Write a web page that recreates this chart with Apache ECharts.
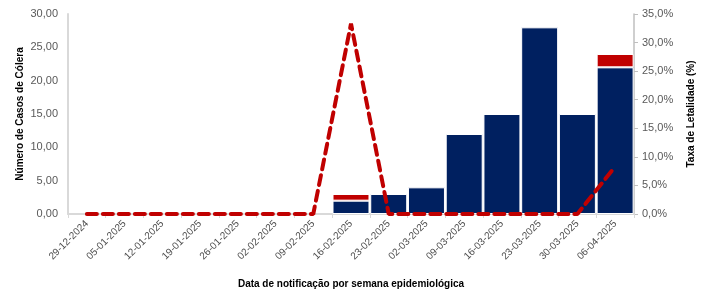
<!DOCTYPE html>
<html>
<head>
<meta charset="utf-8">
<script src="https://cdn.jsdelivr.net/npm/echarts@6/dist/echarts.min.js"></script>
<style>
  html, body { margin: 0; padding: 0; background: #fff; }
  #chart { width: 702px; height: 291px; }
</style>
</head>
<body>
<div id="chart"></div>
<script>
// semanas epidemiológicas
var semanas = ['29-12-2024', '05-01-2025', '12-01-2025', '19-01-2025', '26-01-2025', '02-02-2025', '09-02-2025',
  '16-02-2025', '23-02-2025', '02-03-2025', '09-03-2025', '16-03-2025', '23-03-2025', '30-03-2025', '06-04-2025'];
// casos vivos (azul) e óbitos (vermelho)
var casos = [0, 0, 0, 0, 0, 0, 0, 2, 3, 4, 12, 15, 28, 15, 22];
var obitos = [0, 0, 0, 0, 0, 0, 0, 1, 0, 0, 0, 0, 0, 0, 2];
// taxa de letalidade (%)
var letalidade = [0, 0, 0, 0, 0, 0, 0, 33.3, 0, 0, 0, 0, 0, 0, 8.3];

var font = 'Liberation Sans';
var cinza = '#595959';

function semZero(arr) {
  return arr.map(function (v) { return v === 0 ? '-' : v; });
}

var myEchart = echarts.init(document.getElementById('chart'));
var option = {
  animation: false,
  textStyle: { fontFamily: font },
  grid: { left: 68, right: 68, top: 14, bottom: 77, outerBoundsMode: 'none' },
  xAxis: {
    type: 'category',
    data: semanas,
    name: 'Data de notificação por semana epidemiológica',
    nameLocation: 'middle',
    nameGap: 65,
    nameMoveOverlap: false,
    nameTextStyle: { fontWeight: 'bold', fontSize: 10, color: '#000' },
    axisLine: { lineStyle: { color: '#d9d9d9', width: 2 } },
    axisTick: { show: true, length: 4, lineStyle: { color: '#d9d9d9' } },
    axisLabel: { rotate: 45, fontSize: 10, color: '#4d4d4d', interval: 0, margin: 8 }
  },
  yAxis: [
    {
      type: 'value',
      min: 0, max: 30, interval: 5,
      name: 'Número de Casos de Cólera',
      nameLocation: 'middle',
      nameGap: 43,
      nameMoveOverlap: false,
      nameTextStyle: { fontWeight: 'bold', fontSize: 10, color: '#000' },
      axisLine: { show: true, lineStyle: { color: '#d9d9d9', width: 2 } },
      axisTick: { show: false },
      splitLine: { show: false },
      axisLabel: {
        fontSize: 11, color: cinza, margin: 10,
        formatter: function (v) { return v.toFixed(2).replace('.', ','); }
      }
    },
    {
      type: 'value',
      min: 0, max: 35, interval: 5,
      name: 'Taxa de Letalidade (%)',
      nameLocation: 'middle',
      nameGap: 52,
      nameRotate: 90,
      nameMoveOverlap: false,
      nameTextStyle: { fontWeight: 'bold', fontSize: 10, color: '#000' },
      axisLine: { show: true, lineStyle: { color: '#bfbfbf', width: 1.5 } },
      axisTick: { show: true, length: 4, inside: false, lineStyle: { color: '#bfbfbf' } },
      splitLine: { show: false },
      axisLabel: {
        fontSize: 11, color: cinza, margin: 8,
        formatter: function (v) { return v.toFixed(1).replace('.', ',') + '%'; }
      }
    }
  ],
  series: [
    {
      name: 'Casos',
      type: 'bar',
      stack: 'total',
      data: semZero(casos),
      barCategoryGap: '2%',
      itemStyle: { color: '#002060', borderColor: '#ffffff', borderWidth: 1 }
    },
    {
      name: 'Óbitos',
      type: 'bar',
      stack: 'total',
      data: semZero(obitos),
      itemStyle: { color: '#c00000', borderColor: '#ffffff', borderWidth: 1 }
    },
    {
      name: 'Taxa de Letalidade',
      type: 'line',
      yAxisIndex: 1,
      data: letalidade,
      symbol: 'none',
      z: 5,
      lineStyle: { color: '#c00000', width: 4, type: [10, 6], cap: 'round' }
    }
  ]
};
myEchart.setOption(option);
</script>
</body>
</html>
